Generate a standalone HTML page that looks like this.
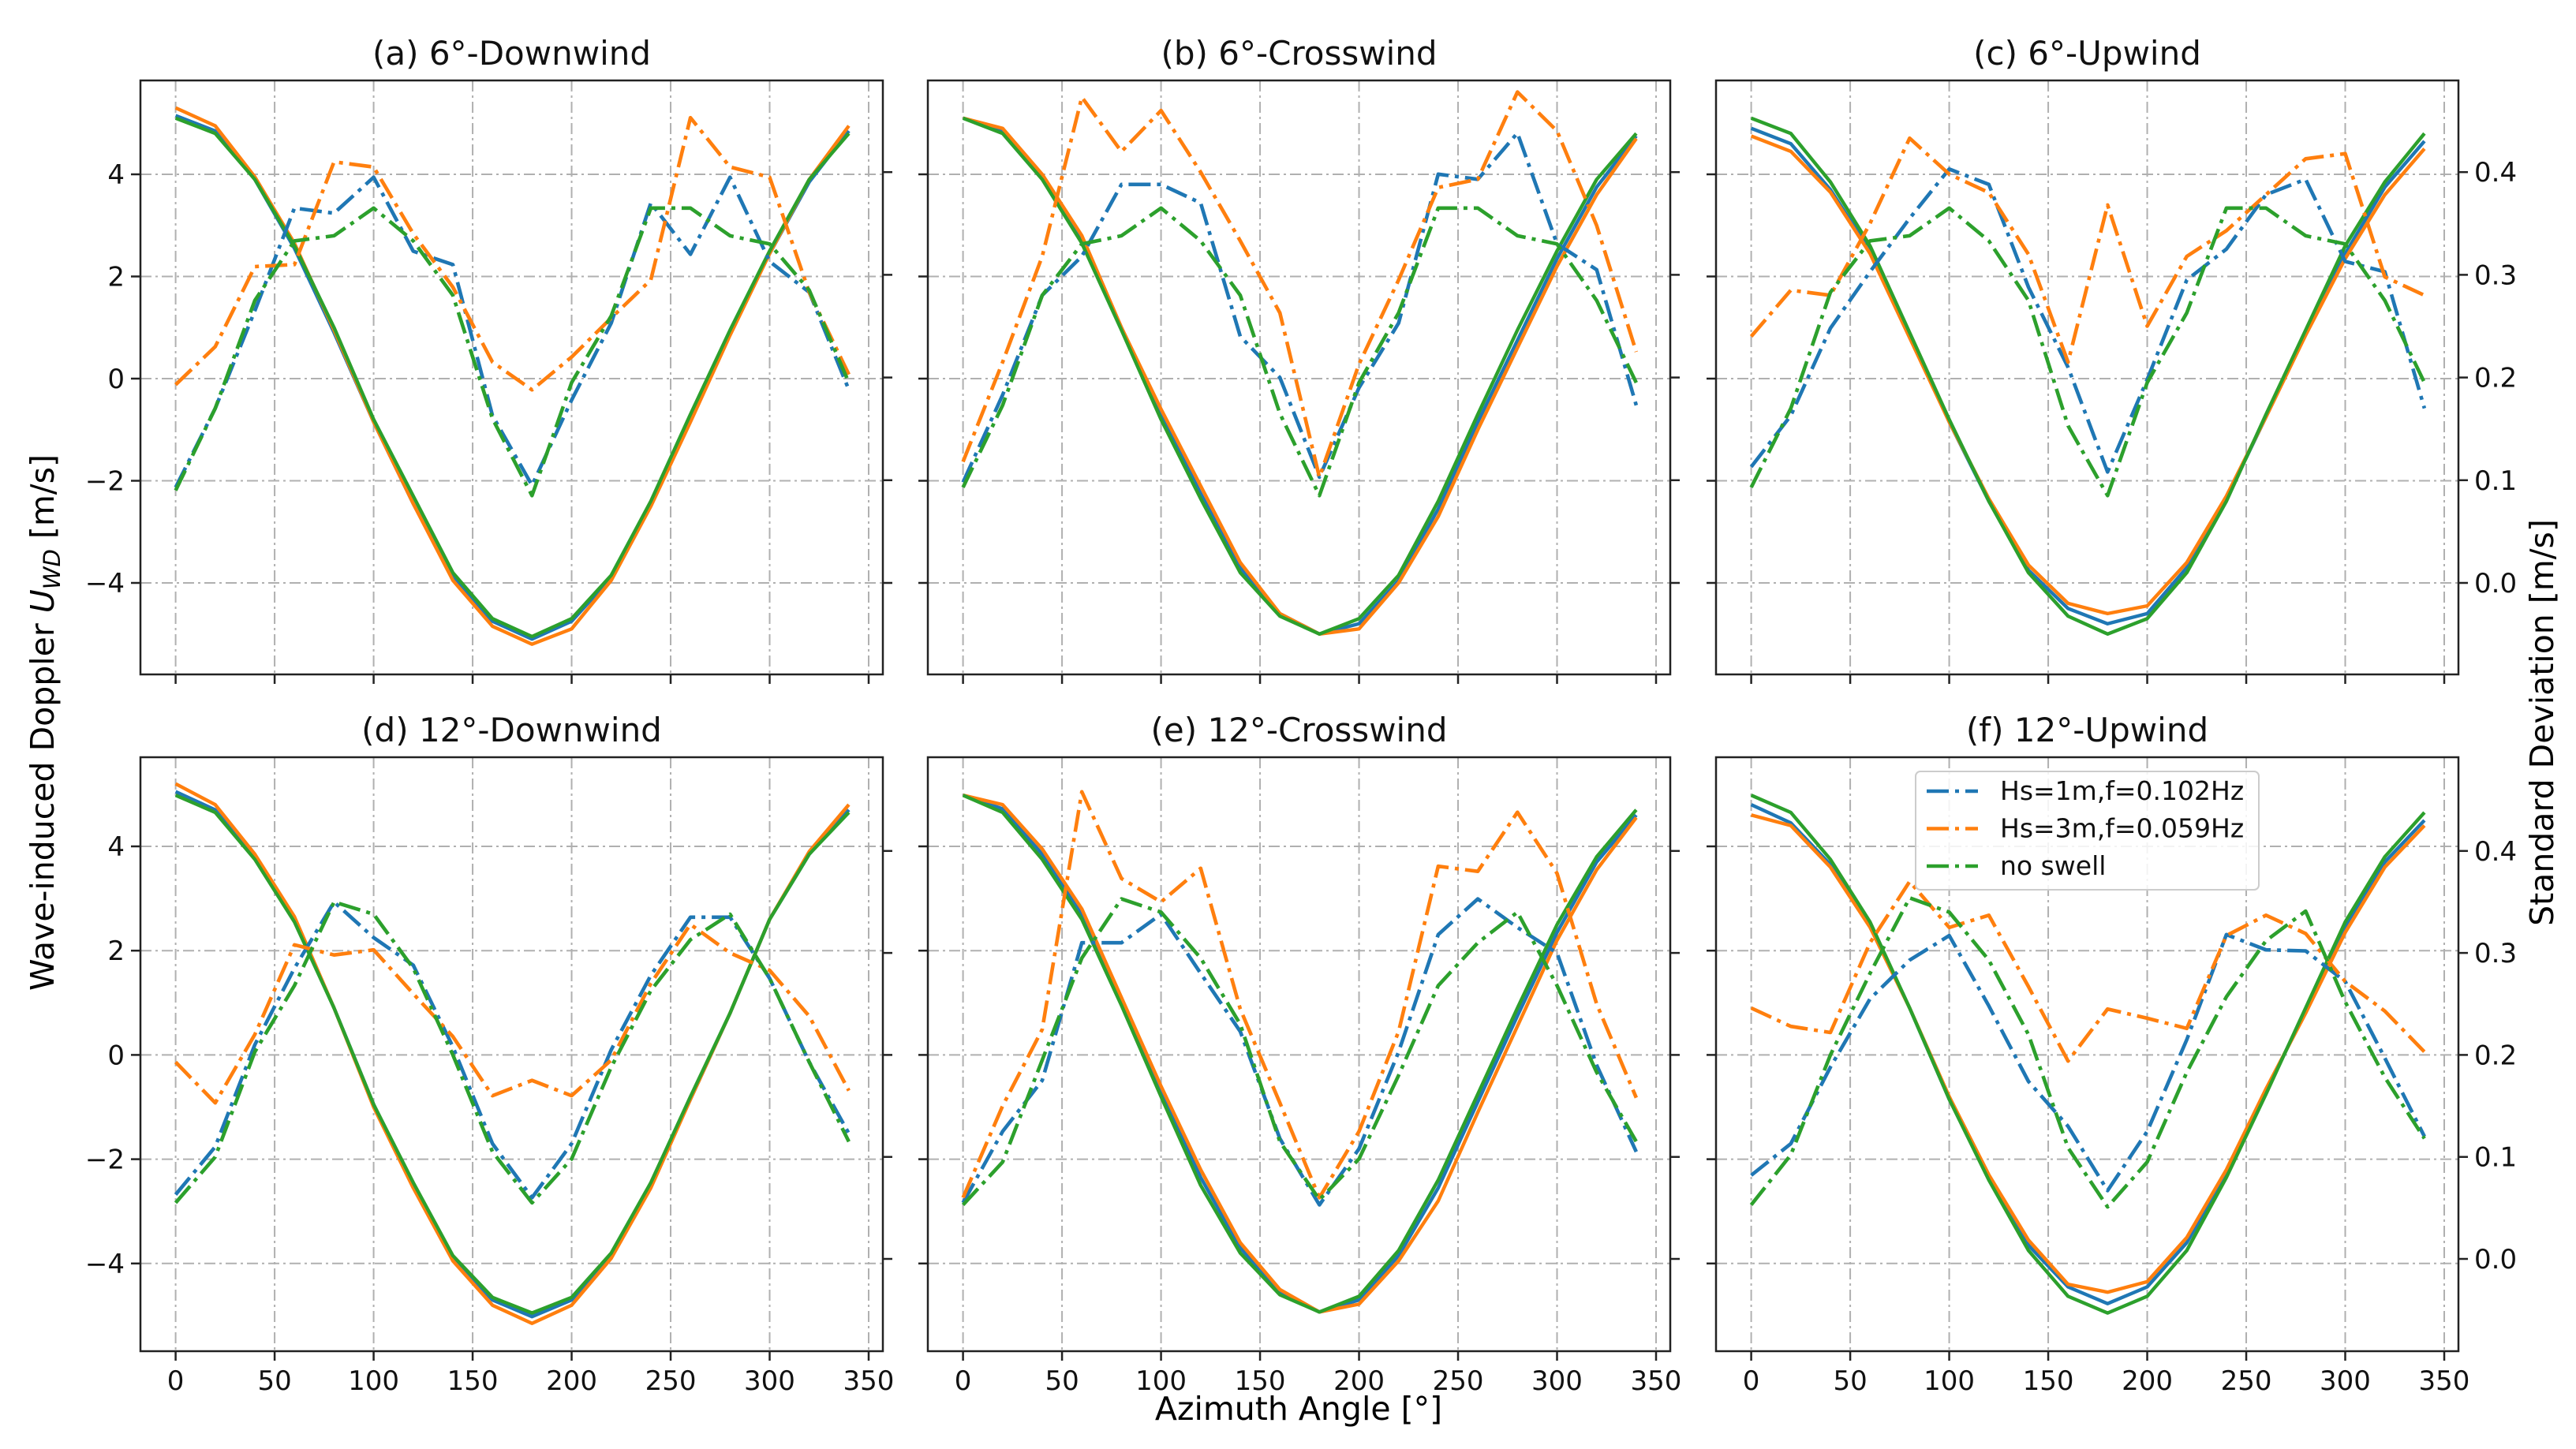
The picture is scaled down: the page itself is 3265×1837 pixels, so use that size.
<!DOCTYPE html>
<html><head><meta charset="utf-8"><style>
html,body{margin:0;padding:0;background:#fff;}
svg{display:block;font-family:"DejaVu Sans","Liberation Sans",sans-serif;}
</style></head><body>
<svg id="fig" width="3265" height="1837" viewBox="0 0 3265 1837" xmlns="http://www.w3.org/2000/svg">
<rect width="3265" height="1837" fill="#fff"/>
<text transform="translate(68,916) rotate(-90)" text-anchor="middle" font-size="41">Wave-induced Doppler <tspan font-style="italic">U</tspan><tspan font-style="italic" font-size="29" dy="8">WD</tspan><tspan dy="-8"> [m/s]</tspan></text>
<text transform="translate(3236,916) rotate(-90)" text-anchor="middle" font-size="41">Standard Deviation [m/s]</text>
<text x="1646" y="1800" text-anchor="middle" font-size="41">Azimuth Angle [°]</text>
</svg>
<script>
const angles=[0,20,40,60,80,100,120,140,160,180,200,220,240,260,280,300,320,340];
const titles=["(a) 6°-Downwind","(b) 6°-Crosswind","(c) 6°-Upwind","(d) 12°-Downwind","(e) 12°-Crosswind","(f) 12°-Upwind"];
const xTicks=[0,50,100,150,200,250,300,350];
const yTicksLeft=[-4,-2,0,2,4];
const yTicksRight=[0.0,0.1,0.2,0.3,0.4];
const seriesNames=["Hs=1m,f=0.102Hz","Hs=3m,f=0.059Hz","no swell"];
const dopBlue=[
[5.15,4.85,3.9,2.55,0.9,-0.85,-2.45,-3.9,-4.75,-5.1,-4.75,-3.9,-2.45,-0.8,0.9,2.45,3.85,4.85],
[5.1,4.85,3.95,2.7,1.0,-0.7,-2.25,-3.7,-4.6,-5.0,-4.8,-3.95,-2.55,-0.85,0.75,2.35,3.75,4.75],
[4.9,4.6,3.7,2.5,0.85,-0.85,-2.4,-3.75,-4.5,-4.8,-4.6,-3.7,-2.35,-0.75,0.9,2.45,3.75,4.65],
[5.05,4.7,3.8,2.6,0.9,-0.95,-2.5,-3.9,-4.7,-5.02,-4.7,-3.85,-2.5,-0.85,0.8,2.6,3.85,4.7],
[4.98,4.72,3.85,2.7,1.0,-0.7,-2.35,-3.7,-4.55,-4.93,-4.7,-3.85,-2.55,-0.9,0.75,2.35,3.7,4.6],
[4.8,4.45,3.65,2.5,0.9,-0.85,-2.35,-3.65,-4.45,-4.77,-4.45,-3.6,-2.3,-0.7,0.85,2.45,3.7,4.5]];
const dopOrange=[
[5.3,4.95,3.95,2.65,0.95,-0.85,-2.45,-3.95,-4.85,-5.2,-4.9,-3.95,-2.5,-0.85,0.85,2.45,3.9,4.95],
[5.1,4.9,4.0,2.8,1.0,-0.6,-2.1,-3.6,-4.6,-5.0,-4.9,-4.0,-2.7,-1.0,0.6,2.2,3.6,4.7],
[4.75,4.45,3.65,2.45,0.8,-0.85,-2.35,-3.65,-4.4,-4.6,-4.45,-3.6,-2.3,-0.75,0.85,2.35,3.6,4.5],
[5.2,4.8,3.85,2.65,0.9,-1.0,-2.55,-3.95,-4.8,-5.15,-4.8,-3.9,-2.55,-0.85,0.8,2.6,3.9,4.8],
[4.98,4.8,3.95,2.8,1.1,-0.6,-2.2,-3.6,-4.5,-4.93,-4.78,-3.95,-2.8,-1.1,0.55,2.2,3.55,4.55],
[4.6,4.4,3.6,2.45,0.9,-0.8,-2.3,-3.55,-4.4,-4.55,-4.35,-3.5,-2.2,-0.65,0.8,2.35,3.6,4.4]];
const dopGreen=[
[5.1,4.8,3.9,2.6,1.0,-0.8,-2.3,-3.8,-4.7,-5.05,-4.7,-3.85,-2.4,-0.7,0.95,2.5,3.9,4.8],
[5.1,4.8,3.9,2.65,0.95,-0.8,-2.35,-3.8,-4.65,-5.0,-4.7,-3.85,-2.4,-0.7,0.95,2.5,3.9,4.8],
[5.1,4.8,3.85,2.6,0.9,-0.8,-2.4,-3.8,-4.65,-5.0,-4.7,-3.8,-2.4,-0.7,0.95,2.6,3.85,4.8],
[4.98,4.65,3.75,2.55,0.9,-0.95,-2.45,-3.85,-4.65,-4.95,-4.65,-3.8,-2.45,-0.8,0.8,2.6,3.85,4.65],
[4.98,4.65,3.75,2.6,0.95,-0.8,-2.5,-3.8,-4.6,-4.93,-4.63,-3.75,-2.4,-0.75,0.9,2.5,3.8,4.7],
[4.98,4.65,3.75,2.55,0.9,-0.85,-2.4,-3.75,-4.63,-4.95,-4.63,-3.75,-2.35,-0.75,0.9,2.55,3.8,4.65]];
const stdBlue=[
[.093,.17,.265,.365,.36,.395,.323,.31,.163,.095,.178,.253,.37,.32,.395,.313,.283,.188],
[.098,.183,.28,.318,.388,.388,.37,.24,.2,.103,.19,.253,.398,.393,.438,.33,.305,.173],
[.113,.163,.248,.303,.355,.403,.388,.288,.21,.108,.198,.295,.325,.378,.393,.313,.303,.17],
[.063,.11,.21,.285,.35,.315,.288,.208,.113,.06,.113,.205,.278,.335,.335,.275,.193,.123],
[.055,.125,.175,.31,.31,.338,.28,.223,.118,.053,.108,.203,.318,.353,.325,.3,.19,.105],
[.082,.113,.188,.255,.293,.317,.248,.174,.13,.067,.125,.215,.318,.303,.302,.272,.197,.12]];
const stdOrange=[
[.193,.23,.308,.31,.41,.405,.34,.288,.215,.188,.22,.258,.295,.453,.405,.395,.283,.203],
[.118,.215,.318,.473,.42,.46,.4,.333,.263,.103,.213,.295,.385,.393,.478,.44,.348,.225],
[.24,.285,.28,.35,.433,.398,.38,.32,.215,.368,.25,.318,.343,.378,.413,.418,.298,.28],
[.193,.153,.22,.308,.298,.303,.26,.218,.16,.175,.16,.195,.27,.328,.3,.283,.238,.165],
[.06,.15,.225,.458,.373,.35,.383,.245,.153,.06,.125,.223,.385,.38,.438,.378,.25,.158],
[.246,.228,.222,.31,.37,.325,.337,.267,.194,.245,.236,.226,.317,.337,.319,.272,.243,.203]];
const stdGreen=[
[.09,.17,.275,.333,.338,.365,.333,.28,.16,.085,.195,.26,.365,.365,.338,.33,.285,.195],
[.093,.173,.28,.33,.338,.365,.333,.28,.165,.085,.195,.263,.365,.365,.338,.33,.275,.195],
[.093,.17,.283,.333,.338,.365,.333,.275,.153,.085,.195,.263,.365,.365,.338,.33,.275,.195],
[.055,.1,.203,.268,.35,.338,.285,.2,.105,.055,.098,.188,.263,.313,.338,.275,.193,.115],
[.053,.095,.195,.295,.353,.34,.295,.23,.115,.058,.098,.18,.268,.31,.34,.268,.183,.115],
[.053,.102,.2,.28,.354,.34,.293,.22,.109,.051,.095,.183,.257,.312,.341,.252,.178,.118]];

const NS='http://www.w3.org/2000/svg';
const svg=document.getElementById('fig');
const colLeft=[178,1176,2175], rowTop=[102,960], W=941, H=753;
const rowL=[{y4:119,unit:64.75},{y4:113,unit:66.1}];
const rowR=[{y0:637,unit:1302},{y0:636,unit:1293}];
const COLORS={blue:'#1f77b4',orange:'#ff7f0e',green:'#2ca02c'};
function mk(tag,attrs,parent){const e=document.createElementNS(NS,tag);for(const k in attrs)e.setAttribute(k,attrs[k]);(parent||svg).appendChild(e);return e;}
function fmtR(v){return v.toFixed(1);}

for(let p=0;p<6;p++){
  const col=p%3,row=Math.floor(p/3);
  const L=colLeft[col],T=rowTop[row];
  const xs=v=>L+44.6+v*(878.4/350);
  const yl=v=>T+rowL[row].y4+(4-v)*rowL[row].unit;
  const yr=v=>T+rowR[row].y0-v*rowR[row].unit;
  const g=mk('g',{});
  
  
  const defs=mk('defs',{},g);
  const cp=mk('clipPath',{id:'clip'+p},defs);
  mk('rect',{x:L,y:T,width:W,height:H},cp);
  const grid=mk('g',{stroke:'#b0b0b0','stroke-width':2,'stroke-dasharray':'14,5,3,5',fill:'none'},g);
  
  
  xTicks.forEach(t=>mk('line',{x1:xs(t),x2:xs(t),y1:T,y2:T+H},grid));
  yTicksLeft.forEach(t=>mk('line',{x1:L,x2:L+W,y1:yl(t),y2:yl(t)},grid));
  const lines=mk('g',{'clip-path':'url(#clip'+p+')',fill:'none','stroke-linejoin':'round'},g);
  const solid=[[dopBlue,'blue'],[dopOrange,'orange'],[dopGreen,'green']];
  solid.forEach(([arr,c])=>{
    const d=arr[p].map((v,i)=>(i?'L':'M')+xs(angles[i]).toFixed(1)+','+yl(v).toFixed(1)).join('');
    const el=mk('path',{d:d,stroke:COLORS[c],'stroke-width':4.4},lines);
    
    
  });
  const dashed=[[stdBlue,'blue'],[stdOrange,'orange'],[stdGreen,'green']];
  dashed.forEach(([arr,c])=>{
    const d=arr[p].map((v,i)=>(i?'L':'M')+xs(angles[i]).toFixed(1)+','+yr(v).toFixed(1)).join('');
    const el=mk('path',{d:d,stroke:COLORS[c],'stroke-width':4.6,'stroke-dasharray':'28,8,5,8'},lines);
    
    
  });
  const fr=mk('rect',{x:L,y:T,width:W,height:H,fill:'none',stroke:'#222','stroke-width':2.5},g);
  
  
  const tk=mk('g',{stroke:'#222','stroke-width':2.5},g);
  xTicks.forEach(t=>mk('line',{x1:xs(t),x2:xs(t),y1:T+H,y2:T+H+12},tk));
  yTicksLeft.forEach(t=>mk('line',{x1:L,x2:L-12,y1:yl(t),y2:yl(t)},tk));
  yTicksRight.forEach(t=>mk('line',{x1:L+W,x2:L+W+12,y1:yr(t),y2:yr(t)},tk));
  const t=mk('text',{x:L+W/2,y:T-20,'text-anchor':'middle','font-size':42,fill:'#111'},g);
  t.textContent=titles[p];
  
  
  if(row===1){xTicks.forEach(v=>{const e=mk('text',{x:xs(v),y:T+H+49,'text-anchor':'middle','font-size':34,fill:'#111'},g);e.textContent=v;
    
    });}
  if(col===0){yTicksLeft.forEach(v=>{const e=mk('text',{x:L-20,y:yl(v)+12,'text-anchor':'end','font-size':34,fill:'#111'},g);e.textContent=v<0?'\u2212'+(-v):v;
    
    });}
  if(col===2){yTicksRight.forEach(v=>{const e=mk('text',{x:L+W+20,y:yr(v)+12,'text-anchor':'start','font-size':34,fill:'#111'},g);e.textContent=fmtR(v);
    
    });}
  if(p===5){
    const lg=mk('g',{},g);
    
    
    mk('rect',{x:2428,y:978,width:435,height:150,rx:6,fill:'#fff','fill-opacity':0.85,stroke:'#ccc','stroke-width':2},lg);
    ['blue','orange','green'].forEach((c,i)=>{
      const yy=1003+i*47.5;
      const ln=mk('line',{x1:2442,x2:2507,y1:yy,y2:yy,stroke:COLORS[c],'stroke-width':4.6,'stroke-dasharray':'28,8,5,8'},lg);
      
      
      const tx=mk('text',{x:2535,y:yy+11,'font-size':33,fill:'#111'},lg);
      tx.textContent=seriesNames[i];
      
      
    });
  }
}
</script>
</body></html>
